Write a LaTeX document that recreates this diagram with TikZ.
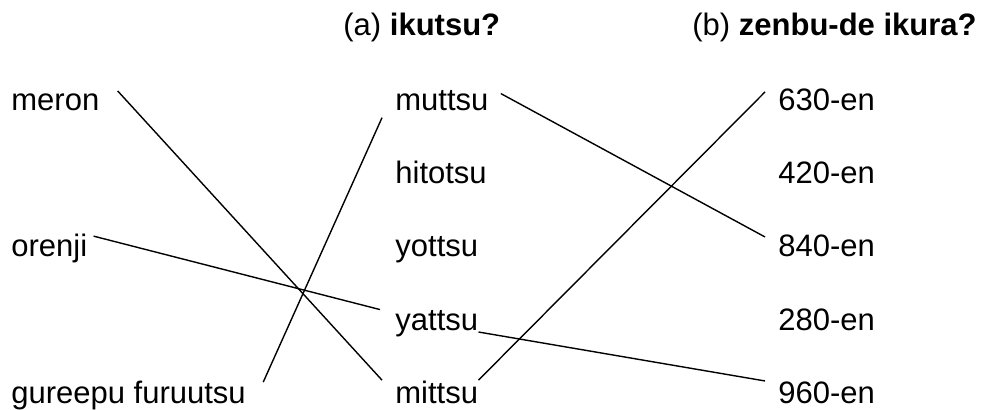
\documentclass[tikz,border=0pt]{standalone}
\usepackage{fontspec}
\setmainfont{Liberation Sans}
\usepackage{tikz}
\usetikzlibrary{positioning}

\tikzset{
  word/.style={anchor=base west, inner sep=0pt, font=\fontsize{15.5}{18}\selectfont},
  link/.style={line width=0.7pt}
}

\begin{document}
\begin{tikzpicture}[x=0.5pt, y=-0.5pt]
  \useasboundingbox (0,0) rectangle (985,409);

  % headings
  \node[word] (heada) at (343,35) {(a) \textbf{ikutsu?}};
  \node[word] (headb) at (692,35) {(b) \textbf{zenbu-de ikura?}};

  % fruit
  \node[word] (meron)  at (11,110) {meron};
  \node[word] (orenji) at (11,256) {orenji};
  \node[word] (gureepu) at (11,403) {gureepu furuutsu};

  % how many
  \node[word] (muttsu)  at (395,110) {muttsu};
  \node[word] (hitotsu) at (395,183) {hitotsu};
  \node[word] (yottsu)  at (395,256) {yottsu};
  \node[word] (yattsu)  at (395,330) {yattsu};
  \node[word] (mittsu)  at (395,403) {mittsu};

  % price
  \node[word] (en630) at (778,110) {630-en};
  \node[word] (en420) at (778,183) {420-en};
  \node[word] (en840) at (778,256) {840-en};
  \node[word] (en280) at (778,330) {280-en};
  \node[word] (en960) at (778,403) {960-en};

  \draw[link] ([xshift=9pt,yshift=1pt]meron.north east) -- ([xshift=-6.5pt]mittsu.north west);
  \draw[link] ([xshift=3pt,yshift=-1.5pt]orenji.north east) -- ([xshift=-7.5pt]yattsu.north west);
  \draw[link] ([xshift=8.5pt,yshift=-1pt]gureepu.north east) -- ([xshift=-6.5pt,yshift=-3.5pt]muttsu.south west);

  \draw[link] ([xshift=6pt,yshift=-2pt]muttsu.north east) -- ([xshift=-6.5pt,yshift=-1.5pt]en840.north west);
  \draw[link] (mittsu.north east) -- ([xshift=-6.5pt,yshift=-2pt]en630.north west);
  \draw[link] ([yshift=-1pt]yattsu.base east) -- ([xshift=-6.5pt]en960.north west);
\end{tikzpicture}
\end{document}
